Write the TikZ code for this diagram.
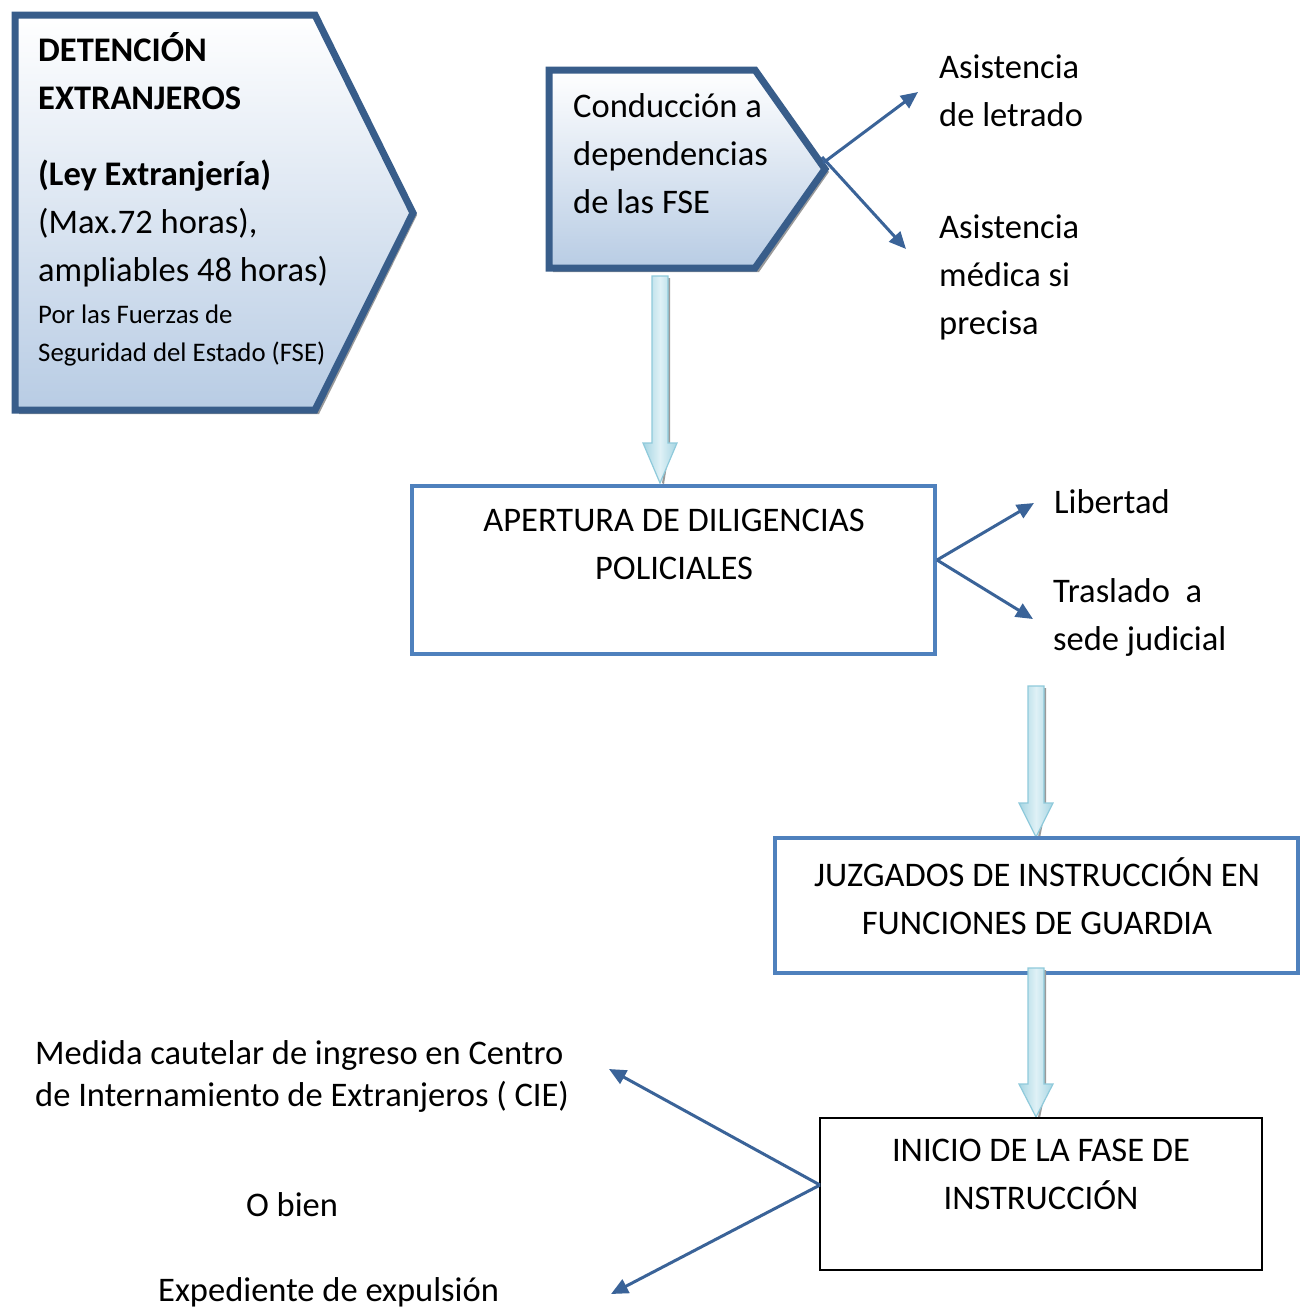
\documentclass[tikz,border=0pt]{standalone}
\usepackage{fontspec}
\setmainfont{Carlito}
\usetikzlibrary{arrows.meta}
\definecolor{outline}{HTML}{385D8A}
\definecolor{boxblue}{HTML}{4F81BD}
\definecolor{gradlo}{HTML}{B8CCE4}
\definecolor{linkblue}{HTML}{3A6398}
\definecolor{flowedge}{HTML}{8FCADB}
\definecolor{flowmid}{HTML}{DFF1F6}
\definecolor{shadowgrey}{HTML}{9A9A9A}

\newcommand\flowdown[4]{% x centre, top, head start, tip
  \fill[shadowgrey] (#1+10,#2+2) -- (#1+10,#3+4) -- (#1+4,#4+1) -- (#1+2,#4) -- (#1+8,#3+2) -- (#1+8,#2+2) -- cycle;
  \path[draw=flowedge, line width=1.2pt, left color=flowedge!80, right color=flowedge!80, middle color=flowmid]
    (#1-8,#2) -- (#1+8,#2) -- (#1+8,#3) -- (#1+17,#3) -- (#1,#4) -- (#1-17,#3) -- (#1-8,#3) -- cycle;
}

\begin{document}
\begin{tikzpicture}[x=1pt,y=-1pt,
  txt/.style={inner sep=0pt, anchor=base west, align=left, font=\fontsize{34.5}{48}\selectfont},
  ctxt/.style={txt, anchor=base, align=center},
  small/.style={font=\fontsize{26.8}{38}\selectfont},
  link/.style={draw=linkblue, line width=3pt, -{Triangle[length=17pt,width=15pt]}},
  bluebox/.style={draw=boxblue, line width=4.5pt, rectangle, inner sep=0pt},
  plainbox/.style={draw=black, line width=2pt, rectangle, inner sep=0pt},
  pentagon/.style={draw=outline, line width=7pt, line join=miter, top color=white, bottom color=gradlo},
  shadow/.style={fill=shadowgrey}]
\useasboundingbox[fill=white] (0,0) rectangle (1308,1307);
% multi-line labels are placed by the baseline of their last line

% detention block
\path[shadow] (19,19) -- (319,19) -- (417,215) -- (319,414) -- (19,414) -- cycle;
\path[pentagon] (15,15) -- (315,15) -- (413,213) -- (315,410) -- (15,410) -- cycle;
\node[txt, font=\fontsize{34.5}{48}\selectfont\bfseries] (detTitle) at (38,109) {DETENCIÓN\\EXTRANJEROS};
\node[txt] (detLaw) at (38,281) {\textbf{(Ley Extranjería)}\\(Max.72 horas),\\ampliables 48 horas)};
\node[txt, small] (detBy) at (38,361) {Por las Fuerzas de\\Seguridad del Estado (FSE)};

% conduction block
\path[shadow] (553,74) -- (759,74) -- (829,172) -- (759,272) -- (553,272) -- cycle;
\path[pentagon] (549,70) -- (755,70) -- (825,169) -- (755,268) -- (549,268) -- cycle;
\coordinate (condTipA) at (823,163);
\coordinate (condTipB) at (822,157);
\node[txt] (condText) at (573,213) {Conducción a\\dependencias\\de las FSE};

% side outcomes of the conduction
\node[txt] (letrado) at (939,126) {Asistencia\\de letrado};
\node[txt] (medica) at (939,334) {Asistencia\\médica si\\precisa};
\coordinate (letradoEnd) at (918,92);
\coordinate (medicaEnd) at (906,249);
\draw[link] (condTipA) -- (letradoEnd);
\draw[link] (condTipB) -- (medicaEnd);

% police proceedings
\node[bluebox, minimum width=523pt, minimum height=168pt] (apertura) at (673.5,570) {};
\node[ctxt] (aperturaText) at (674,579) {APERTURA DE DILIGENCIAS\\POLICIALES};
\flowdown{660}{276}{443}{483}

\node[txt] (libertad) at (1054,513) {Libertad};
\node[txt] (traslado) at (1053,650) {Traslado\ \ a\\sede judicial};
\coordinate (aperturaOut) at (937,560);
\coordinate (libertadEnd) at (1034,503);
\coordinate (trasladoEnd) at (1033,619);
\draw[link] (aperturaOut) -- (libertadEnd);
\draw[link] (aperturaOut) -- (trasladoEnd);

% duty courts
\flowdown{1036}{686}{803}{837}
\node[bluebox, minimum width=523pt, minimum height=135pt] (juzgados) at (1036.5,905.5) {};
\node[ctxt] (juzgadosText) at (1037,934) {JUZGADOS DE INSTRUCCIÓN EN\\FUNCIONES DE GUARDIA};

% investigation phase
\flowdown{1036}{968}{1084}{1117}
\node[plainbox, minimum width=442pt, minimum height=152pt] (inicio) at (1041,1194) {};
\node[ctxt] (inicioText) at (1041,1209) {INICIO DE LA FASE DE\\INSTRUCCIÓN};

\node[txt, font=\fontsize{34.5}{42}\selectfont] (medida) at (35,1106) {Medida cautelar de ingreso en Centro\\de Internamiento de Extranjeros ( CIE)};
\node[ctxt] (obien) at (292,1216) {O bien};
\node[txt] (expediente) at (158,1301) {Expediente de expulsión};
\coordinate (inicioOut) at (820,1185);
\coordinate (medidaEnd) at (609,1069);
\coordinate (expedienteEnd) at (611,1294);
\draw[link] (inicioOut) -- (medidaEnd);
\draw[link] (inicioOut) -- (expedienteEnd);
\end{tikzpicture}
\end{document}
